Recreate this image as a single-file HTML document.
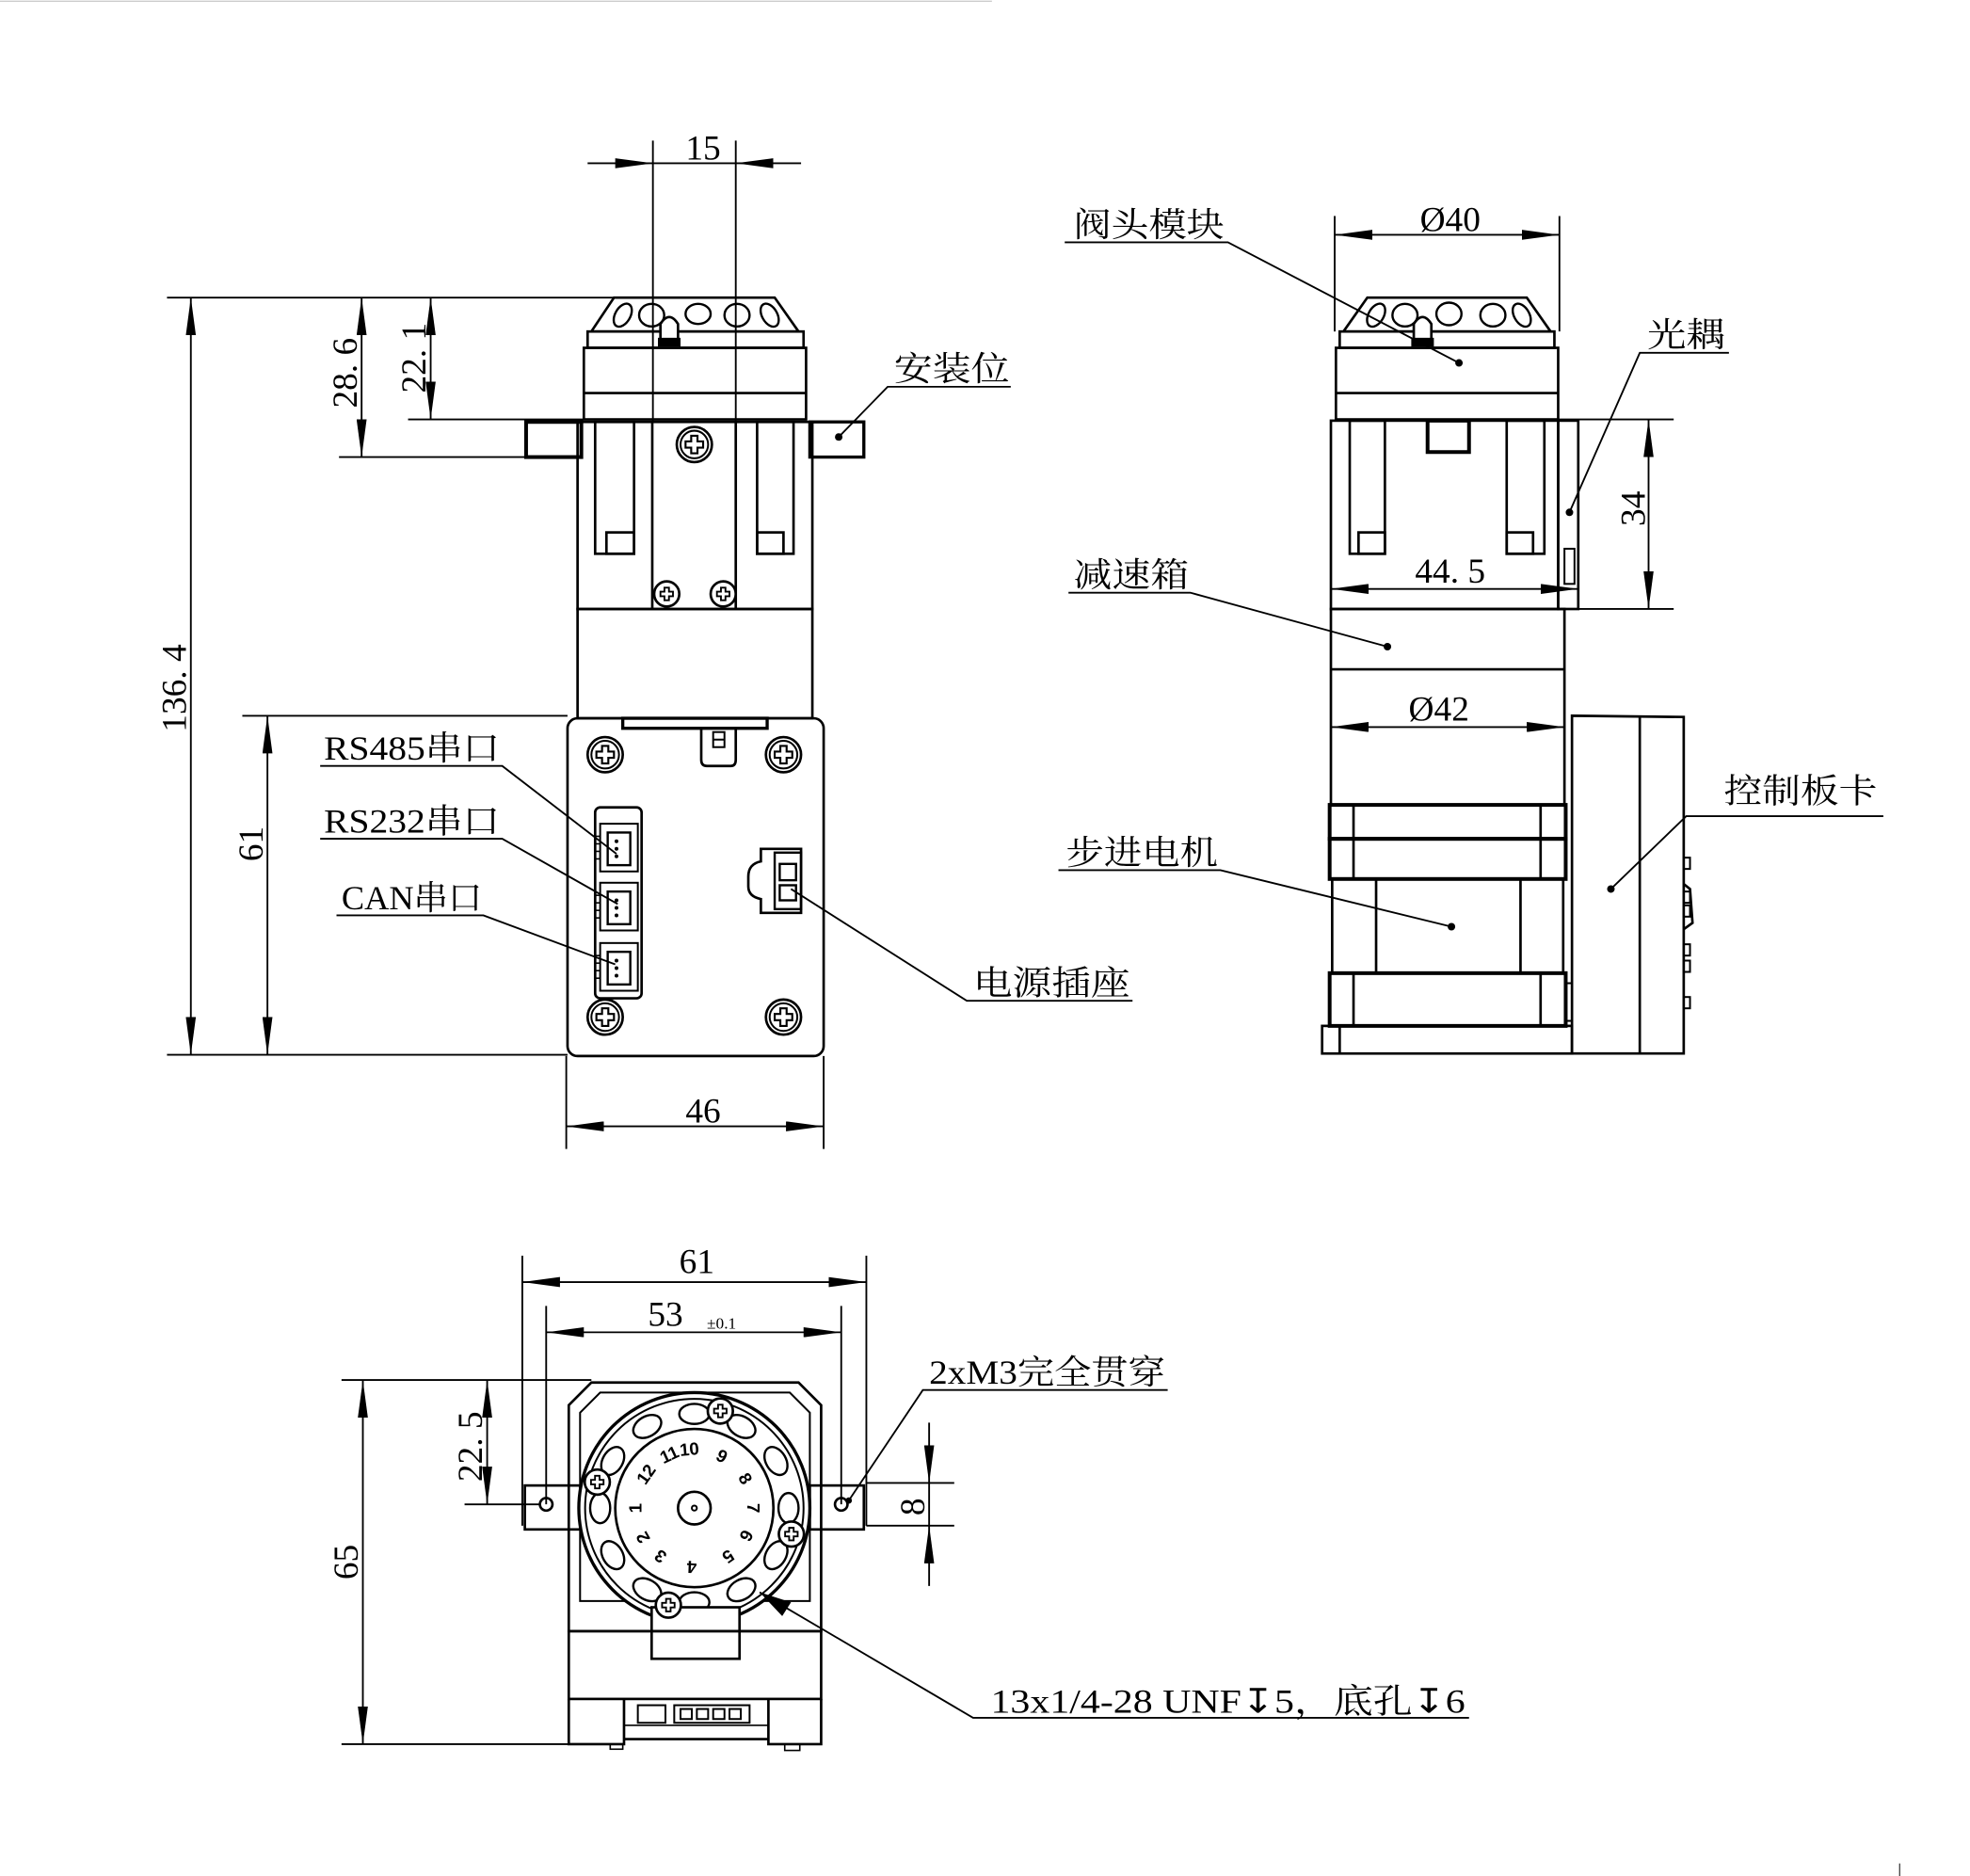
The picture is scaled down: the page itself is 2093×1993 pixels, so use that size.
<!DOCTYPE html>
<html><head><meta charset="utf-8"><style>
html,body{margin:0;padding:0;background:#fff;}
svg{display:block;}
text{font-family:"Liberation Serif","Noto Serif CJK SC",serif;fill:#000;}
</style></head><body>
<svg width="2093" height="1993" viewBox="0 0 1569 1494" preserveAspectRatio="none" xmlns="http://www.w3.org/2000/svg">
<defs>
<marker id="a" viewBox="0 0 30 8" refX="30" refY="4" markerWidth="30" markerHeight="8" markerUnits="userSpaceOnUse" orient="auto-start-reverse"><path d="M0,0 L30,4 L0,8 Z" fill="#000"/></marker>
<g id="scr"><circle r="14" fill="#fff" stroke="#000" stroke-width="2"/><circle r="11" fill="none" stroke="#000" stroke-width="1.5"/><path d="M-2.5,-7 h5 v4.5 h4.5 v5 h-4.5 v4.5 h-5 v-4.5 h-4.5 v-5 h4.5 z" fill="none" stroke="#000" stroke-width="1.6"/></g>
<g id="scs"><circle r="10" fill="#fff" stroke="#000" stroke-width="2"/><path d="M-1.8,-5 h3.6 v3.2 h3.2 v3.6 h-3.2 v3.2 h-3.6 v-3.2 h-3.2 v-3.6 h3.2 z" fill="none" stroke="#000" stroke-width="1.4"/></g>
<g id="conn"><rect x="-13" y="-19" width="30" height="38" fill="none" stroke="#000" stroke-width="1.5"/><rect x="-7" y="-12" width="18" height="26" fill="none" stroke="#000" stroke-width="1.8"/><rect x="-17" y="-9" width="4" height="6" fill="none" stroke="#000" stroke-width="1.2"/><rect x="-17" y="3" width="4" height="6" fill="none" stroke="#000" stroke-width="1.2"/><circle cx="0" cy="-5" r="1.5"/><circle cx="0" cy="1" r="1.5"/><circle cx="0" cy="7" r="1.5"/></g>
</defs>
<rect width="1569" height="1494" fill="#fff"/>
<line x1="0" y1="1" x2="790" y2="1" stroke="#ccc" stroke-width="1"/>
<line x1="1513" y1="1484" x2="1513" y2="1494" stroke="#444" stroke-width="1"/>

<g fill="none" stroke="#000" stroke-width="2">
<path d="M489,237 L617,237 L636,264 L471,264 Z" fill="#fff"/>
<rect x="468" y="264" width="172" height="13"/>
<rect x="465" y="277" width="177" height="57"/>
<line x1="465" y1="313" x2="642" y2="313"/>
<g stroke-width="1.8">
<ellipse cx="496" cy="251" rx="6" ry="10" transform="rotate(30 496 251)"/>
<ellipse cx="519" cy="251" rx="10" ry="9"/>
<ellipse cx="556" cy="250" rx="10" ry="8"/>
<ellipse cx="587" cy="251" rx="10" ry="9"/>
<ellipse cx="613" cy="251" rx="6" ry="10" transform="rotate(-30 613 251)"/>
</g>
<path d="M526,274 L526,258 Q533,247 540,258 L540,274" fill="#fff"/>
<rect x="525" y="270" width="16" height="5" fill="#000"/>
<rect x="419" y="336" width="44" height="28" stroke-width="3"/>
<rect x="645" y="336" width="43" height="28" stroke-width="2.5"/>
<rect x="460" y="336" width="187" height="149"/>
<rect x="474" y="336" width="31" height="105"/>
<rect x="483" y="424" width="22" height="17"/>
<rect x="603" y="336" width="29" height="105"/>
<rect x="603" y="424" width="21" height="17"/>
<line x1="519.5" y1="336" x2="519.5" y2="485"/>
<line x1="586" y1="336" x2="586" y2="485"/>
<rect x="460" y="485" width="187" height="87"/>
<rect x="452" y="572" width="204" height="269" rx="8"/>
<rect x="496" y="572" width="115" height="8" stroke-width="2.5"/>
<path d="M558.5,580 V605 Q558.5,610 563,610 H582 Q586,610 586,605 V580"/>
<rect x="568" y="583" width="9" height="12" stroke-width="1.5"/>
<line x1="568" y1="589" x2="577" y2="589" stroke-width="1.5"/>
<rect x="474" y="643" width="37" height="152" rx="4"/>
<path d="M606,676 H638 V727 H606 V716 Q596,714 596,706 V698 Q596,688 606,686 Z"/>
<rect x="617" y="679" width="21" height="45" stroke-width="1.8"/>
<rect x="621" y="688" width="13" height="13" stroke-width="1.8"/>
<rect x="621" y="705" width="13" height="12" stroke-width="1.8"/>
</g>
<use href="#scr" x="553" y="354"/>
<use href="#scs" x="531" y="473"/>
<use href="#scs" x="576" y="473"/>
<use href="#scr" x="482" y="601"/>
<use href="#scr" x="624" y="601"/>
<use href="#scr" x="482" y="810"/>
<use href="#scr" x="624" y="810"/>
<use href="#conn" x="491" y="675"/>
<use href="#conn" x="491" y="722"/>
<use href="#conn" x="491" y="770"/>

<g stroke="#000" stroke-width="1.4" fill="none">
<line x1="520" y1="112" x2="520" y2="336"/>
<line x1="586" y1="112" x2="586" y2="336"/>
<line x1="468" y1="130" x2="520" y2="130" marker-end="url(#a)"/>
<line x1="638" y1="130" x2="586" y2="130" marker-end="url(#a)"/>
<line x1="520" y1="130" x2="586" y2="130"/>
<line x1="133" y1="237" x2="489" y2="237"/>
<line x1="133" y1="840" x2="452" y2="840"/>
<line x1="152" y1="237" x2="152" y2="840" marker-start="url(#a)" marker-end="url(#a)"/>
<line x1="270" y1="364" x2="419" y2="364"/>
<line x1="288" y1="237" x2="288" y2="364" marker-start="url(#a)" marker-end="url(#a)"/>
<line x1="325" y1="334" x2="465" y2="334"/>
<line x1="343" y1="237" x2="343" y2="334" marker-start="url(#a)" marker-end="url(#a)"/>
<line x1="193" y1="570" x2="452" y2="570"/>
<line x1="213" y1="570" x2="213" y2="840" marker-start="url(#a)" marker-end="url(#a)"/>
<line x1="451" y1="841" x2="451" y2="915"/>
<line x1="656" y1="841" x2="656" y2="915"/>
<line x1="451" y1="897" x2="656" y2="897" marker-start="url(#a)" marker-end="url(#a)"/>
</g>
<g font-size="28">
<text x="560" y="127" text-anchor="middle">15</text>
<text transform="translate(148,548) rotate(-90)" text-anchor="middle">136. 4</text>
<text transform="translate(284,297) rotate(-90)" text-anchor="middle">28. 6</text>
<text transform="translate(339,285) rotate(-90)" text-anchor="middle">22. 1</text>
<text transform="translate(209,672) rotate(-90)" text-anchor="middle">61</text>
<text x="560" y="894" text-anchor="middle">46</text>
</g>
<g stroke="#000" stroke-width="1.4" fill="none">
<polyline points="668,348 707,308 805,308"/>
<polyline points="491,680 400,610 255,610"/>
<polyline points="492,720 400,668 255,668"/>
<polyline points="490,768 385,729 268,729"/>
<polyline points="630,708 770,797 902,797"/>
</g>
<circle cx="668" cy="348" r="3"/>
<g font-size="27">
<text x="712" y="303" textLength="92" lengthAdjust="spacingAndGlyphs">安装位</text>
<text x="258" y="605" textLength="140" lengthAdjust="spacingAndGlyphs">RS485串口</text>
<text x="258" y="663" textLength="140" lengthAdjust="spacingAndGlyphs">RS232串口</text>
<text x="272" y="724" textLength="112" lengthAdjust="spacingAndGlyphs">CAN串口</text>
<text x="775" y="792" textLength="125" lengthAdjust="spacingAndGlyphs">电源插座</text>
</g>

<g fill="none" stroke="#000" stroke-width="2">
<path d="M1089,237 L1216,237 L1235,264 L1070,264 Z" fill="#fff"/>
<rect x="1067" y="264" width="171" height="13"/>
<rect x="1064" y="277" width="177" height="57"/>
<line x1="1064" y1="313" x2="1241" y2="313"/>
<g stroke-width="1.8">
<ellipse cx="1096" cy="251" rx="6" ry="10" transform="rotate(30 1096 251)"/>
<ellipse cx="1119" cy="251" rx="10" ry="9"/>
<ellipse cx="1154" cy="250" rx="10" ry="9"/>
<ellipse cx="1189" cy="251" rx="10" ry="9"/>
<ellipse cx="1212" cy="251" rx="6" ry="10" transform="rotate(-30 1212 251)"/>
</g>
<path d="M1126,274 L1126,258 Q1133,247 1140,258 L1140,274" fill="#fff"/>
<rect x="1125" y="270" width="16" height="5" fill="#000"/>
<rect x="1060" y="335" width="181" height="150"/>
<rect x="1075" y="335" width="28" height="106"/>
<rect x="1082" y="424" width="21" height="17"/>
<rect x="1200" y="335" width="30" height="106"/>
<rect x="1200" y="424" width="21" height="17"/>
<rect x="1137" y="335" width="33" height="25" stroke-width="3"/>
<rect x="1241" y="335" width="16" height="150"/>
<rect x="1246" y="437" width="8" height="28" stroke-width="1.5"/>
<rect x="1060" y="485" width="186" height="156"/>
<line x1="1060" y1="533" x2="1246" y2="533"/>
<rect x="1059" y="641" width="188" height="27" stroke-width="3"/>
<line x1="1078" y1="641" x2="1078" y2="668"/><line x1="1227" y1="641" x2="1227" y2="668"/>
<rect x="1059" y="668" width="188" height="32" stroke-width="3"/>
<line x1="1078" y1="668" x2="1078" y2="700"/><line x1="1227" y1="668" x2="1227" y2="700"/>
<rect x="1061" y="700" width="184" height="75"/>
<line x1="1096" y1="700" x2="1096" y2="775"/><line x1="1211" y1="700" x2="1211" y2="775"/>
<rect x="1059" y="775" width="188" height="42" stroke-width="3"/>
<line x1="1078" y1="775" x2="1078" y2="817"/><line x1="1227" y1="775" x2="1227" y2="817"/>
<rect x="1053" y="817" width="199" height="22"/>
<line x1="1067" y1="817" x2="1067" y2="839"/>
<rect x="1247" y="783" width="5" height="30" stroke-width="1.5"/>
<path d="M1252,570 L1341,571 L1341,839 L1252,839 Z"/>
<line x1="1306" y1="570" x2="1306" y2="839"/>
<rect x="1341" y="683" width="5" height="9" stroke-width="1.5"/>
<path d="M1341,704 L1346,708 L1348,735 L1341,740" />
<rect x="1341" y="710" width="5" height="9" stroke-width="1.5"/>
<rect x="1341" y="721" width="5" height="9" stroke-width="1.5"/>
<rect x="1341" y="752" width="5" height="9" stroke-width="1.5"/>
<rect x="1341" y="765" width="5" height="9" stroke-width="1.5"/>
<rect x="1341" y="794" width="5" height="9" stroke-width="1.5"/>
</g>
<g stroke="#000" stroke-width="1.4" fill="none">
<line x1="1063" y1="172" x2="1063" y2="264"/>
<line x1="1242" y1="172" x2="1242" y2="264"/>
<line x1="1063" y1="187" x2="1242" y2="187" marker-start="url(#a)" marker-end="url(#a)"/>
<line x1="1241" y1="334" x2="1333" y2="334"/>
<line x1="1257" y1="485" x2="1333" y2="485"/>
<line x1="1313" y1="334" x2="1313" y2="485" marker-start="url(#a)" marker-end="url(#a)"/>
<line x1="1060" y1="469" x2="1257" y2="469" marker-start="url(#a)" marker-end="url(#a)"/>
<line x1="1060" y1="579" x2="1246" y2="579" marker-start="url(#a)" marker-end="url(#a)"/>
</g>
<g font-size="28">
<text x="1155" y="184" text-anchor="middle">Ø40</text>
<text transform="translate(1310,405) rotate(-90)" text-anchor="middle">34</text>
<text x="1155" y="464" text-anchor="middle">44. 5</text>
<text x="1146" y="574" text-anchor="middle">Ø42</text>
</g>
<g stroke="#000" stroke-width="1.4" fill="none">
<polyline points="1162,289 978,193 848,193"/>
<polyline points="1250,408 1306,281 1377,281"/>
<polyline points="1105,515 948,472 851,472"/>
<polyline points="1283,708 1343,650 1500,650"/>
<polyline points="1156,738 972,693 843,693"/>
</g>
<circle cx="1162" cy="289" r="3"/><circle cx="1250" cy="408" r="3"/><circle cx="1105" cy="515" r="3"/><circle cx="1283" cy="708" r="3"/><circle cx="1156" cy="738" r="3"/>
<g font-size="27">
<text x="855" y="188" textLength="120" lengthAdjust="spacingAndGlyphs">阀头模块</text>
<text x="1312" y="276" textLength="62" lengthAdjust="spacingAndGlyphs">光耦</text>
<text x="855" y="467" textLength="92" lengthAdjust="spacingAndGlyphs">减速箱</text>
<text x="1373" y="639" textLength="122" lengthAdjust="spacingAndGlyphs">控制板卡</text>
<text x="849" y="688" textLength="121" lengthAdjust="spacingAndGlyphs">步进电机</text>
</g>

<g fill="none" stroke="#000" stroke-width="2">
<path d="M471,1101 L636,1101 L654,1119 L654,1299 L453,1299 L453,1119 Z"/>
<path d="M478,1109 L629,1109 L645,1125 L645,1275 L462,1275 L462,1125 Z" stroke-width="1.5"/>
<rect x="418" y="1183" width="44" height="35"/>
<rect x="645" y="1183" width="43" height="35"/>
<circle cx="435" cy="1198" r="5"/>
<circle cx="670" cy="1198" r="5"/>
<circle cx="553" cy="1201" r="92" fill="#fff" stroke-width="2.5"/>
<circle cx="553" cy="1201" r="87" stroke-width="1.5"/>
<circle cx="553" cy="1201" r="63" stroke-width="2"/>
<circle cx="553" cy="1201" r="13"/>
<circle cx="553" cy="1201" r="2" stroke-width="1.5"/>
<g stroke-width="1.8">
<ellipse cx="628" cy="1201" rx="12" ry="8" transform="rotate(90 628 1201)"/>
<ellipse cx="618" cy="1238.5" rx="12" ry="8" transform="rotate(120 618 1238.5)"/>
<ellipse cx="590.5" cy="1266" rx="12" ry="8" transform="rotate(150 590.5 1266)"/>
<ellipse cx="553" cy="1276" rx="12" ry="8"/>
<ellipse cx="515.5" cy="1266" rx="12" ry="8" transform="rotate(30 515.5 1266)"/>
<ellipse cx="488" cy="1238.5" rx="12" ry="8" transform="rotate(60 488 1238.5)"/>
<ellipse cx="478" cy="1201" rx="12" ry="8" transform="rotate(90 478 1201)"/>
<ellipse cx="488" cy="1163.5" rx="12" ry="8" transform="rotate(120 488 1163.5)"/>
<ellipse cx="515.5" cy="1136" rx="12" ry="8" transform="rotate(150 515.5 1136)"/>
<ellipse cx="553" cy="1126" rx="12" ry="8"/>
<ellipse cx="590.5" cy="1136" rx="12" ry="8" transform="rotate(30 590.5 1136)"/>
<ellipse cx="618" cy="1163.5" rx="12" ry="8" transform="rotate(60 618 1163.5)"/>
</g>
<rect x="519" y="1280" width="70" height="41" fill="#fff"/>
<line x1="519" y1="1299" x2="589" y2="1299"/>
<rect x="453" y="1299" width="201" height="54"/>
<path d="M453,1353 V1389 H497 V1353 M612,1353 V1389 H654 V1353"/>
<line x1="497" y1="1385" x2="612" y2="1385"/>
<rect x="537" y="1358" width="60" height="14" stroke-width="1.5"/>
<rect x="508" y="1358" width="22" height="14" stroke-width="1.5"/>
<line x1="497" y1="1374" x2="612" y2="1374" stroke-width="1.2"/>
<rect x="486" y="1389" width="10" height="4" stroke-width="1.2"/>
<rect x="625" y="1389" width="12" height="5" stroke-width="1.2"/>
</g>
<g fill="none" stroke="#000" stroke-width="1.5">
<rect x="542" y="1361" width="9" height="8"/><rect x="555" y="1361" width="9" height="8"/><rect x="568" y="1361" width="9" height="8"/><rect x="581" y="1361" width="9" height="8"/>
</g>
<use href="#scs" x="573.7" y="1123.7"/>
<use href="#scs" x="630.3" y="1221.7"/>
<use href="#scs" x="532.3" y="1278.3"/>
<use href="#scs" x="475.7" y="1180.3"/>
<g font-weight="bold" font-size="14" text-anchor="middle" dominant-baseline="central" style="font-family:'Liberation Sans',sans-serif">
<text transform="translate(549,1154) rotate(-5)" style="font-family:'Liberation Sans',sans-serif">10</text>
<text transform="translate(575,1159.5) rotate(28)" style="font-family:'Liberation Sans',sans-serif">9</text>
<text transform="translate(593.7,1177.5) rotate(60)" style="font-family:'Liberation Sans',sans-serif">8</text>
<text transform="translate(600,1201) rotate(90)" style="font-family:'Liberation Sans',sans-serif">7</text>
<text transform="translate(594.5,1223) rotate(118)" style="font-family:'Liberation Sans',sans-serif">6</text>
<text transform="translate(580,1239.5) rotate(145)" style="font-family:'Liberation Sans',sans-serif">5</text>
<text transform="translate(551,1248) rotate(182)" style="font-family:'Liberation Sans',sans-serif">4</text>
<text transform="translate(526,1239.5) rotate(215)" style="font-family:'Liberation Sans',sans-serif">3</text>
<text transform="translate(512,1224.5) rotate(240)" style="font-family:'Liberation Sans',sans-serif">2</text>
<text transform="translate(506,1201) rotate(270)" style="font-family:'Liberation Sans',sans-serif">1</text>
<text transform="translate(514.5,1174) rotate(305)" style="font-family:'Liberation Sans',sans-serif">12</text>
<text transform="translate(533,1158.4) rotate(335)" style="font-family:'Liberation Sans',sans-serif">11</text>
</g>
<g stroke="#000" stroke-width="1.4" fill="none">
<line x1="416" y1="1000" x2="416" y2="1215"/>
<line x1="690" y1="1000" x2="690" y2="1215"/>
<line x1="416" y1="1021" x2="690" y2="1021" marker-start="url(#a)" marker-end="url(#a)"/>
<line x1="435" y1="1040" x2="435" y2="1198"/>
<line x1="670" y1="1040" x2="670" y2="1198"/>
<line x1="435" y1="1061" x2="670" y2="1061" marker-start="url(#a)" marker-end="url(#a)"/>
<line x1="272" y1="1099" x2="471" y2="1099"/>
<line x1="272" y1="1389" x2="460" y2="1389"/>
<line x1="289" y1="1099" x2="289" y2="1389" marker-start="url(#a)" marker-end="url(#a)"/>
<line x1="370" y1="1198" x2="430" y2="1198"/>
<line x1="388" y1="1099" x2="388" y2="1198" marker-start="url(#a)" marker-end="url(#a)"/>
<line x1="690" y1="1181" x2="760" y2="1181"/>
<line x1="690" y1="1215" x2="760" y2="1215"/>
<line x1="740" y1="1133" x2="740" y2="1181" marker-end="url(#a)"/>
<line x1="740" y1="1263" x2="740" y2="1215" marker-end="url(#a)"/>
<line x1="740" y1="1181" x2="740" y2="1215"/>
<polyline points="676,1195 735,1107 930,1107"/>
<polyline points="605,1268 775,1368 1170,1368"/>
</g>
<path d="M605,1268 L630,1276 L623,1287 Z" fill="#000"/>
<circle cx="676" cy="1195" r="2.5"/>
<g font-size="28">
<text x="555" y="1014" text-anchor="middle">61</text>
<text x="530" y="1056" text-anchor="middle">53</text>
<text x="563" y="1058" font-size="13">±0.1</text>
<text transform="translate(285,1244) rotate(-90)" text-anchor="middle">65</text>
<text transform="translate(384,1152) rotate(-90)" text-anchor="middle">22. 5</text>
<text transform="translate(736,1200) rotate(-90)" text-anchor="middle">8</text>
</g>
<g font-size="27">
<text x="740" y="1102" textLength="188" lengthAdjust="spacingAndGlyphs">2xM3完全贯穿</text>
<text x="789" y="1364" textLength="378" lengthAdjust="spacingAndGlyphs">13x1/4-28 UNF↧5，底孔↧6</text>
</g>
</svg>
</body></html>
